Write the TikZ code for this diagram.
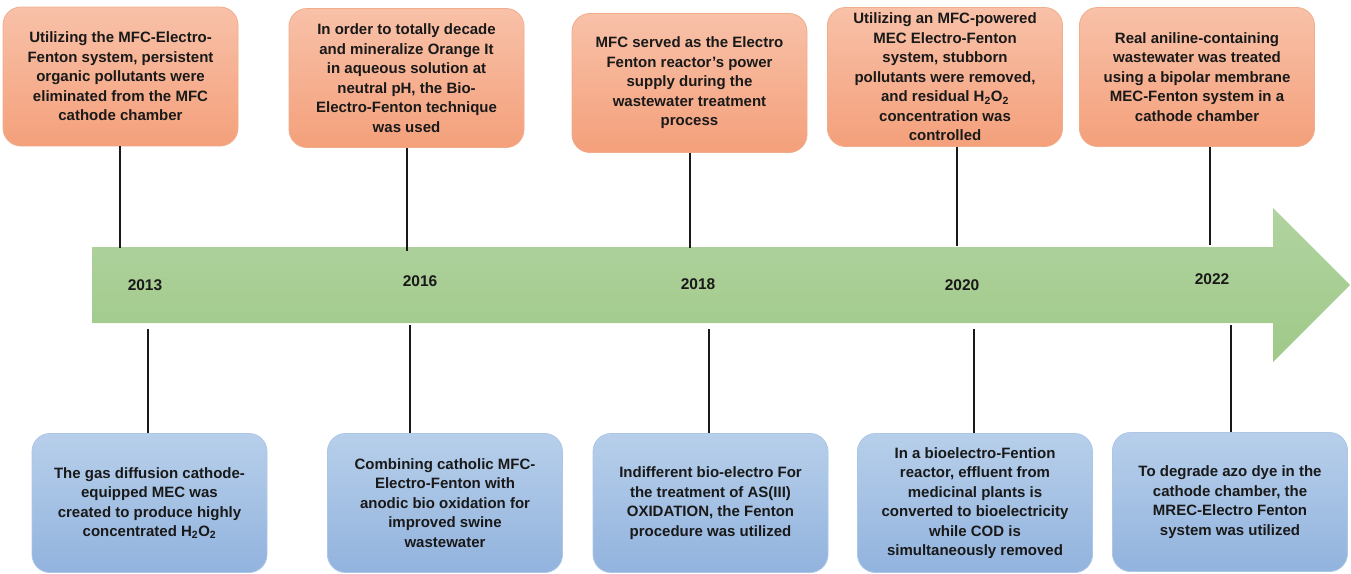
\documentclass[tikz,border=0pt]{standalone}
\usepackage{fontspec}
\setmainfont{Liberation Sans}
\definecolor{peach}{RGB}{248,193,168}
\definecolor{coral}{RGB}{244,160,123}
\definecolor{coralline}{RGB}{241,172,140}
\definecolor{sky}{RGB}{183,207,234}
\definecolor{steel}{RGB}{146,179,222}
\definecolor{skyline}{RGB}{172,198,230}
\definecolor{leaf}{RGB}{177,211,160}
\definecolor{moss}{RGB}{160,201,137}
\definecolor{ink}{RGB}{25,25,25}
\tikzset{
  event/.style={draw=#1,line width=0.8pt,rounded corners=18pt,minimum width=235pt,
    minimum height=139pt,align=center,text=ink,inner sep=2pt,
    font=\fontsize{15}{19.5}\selectfont\bfseries},
  top event/.style={event=coralline,top color=peach,bottom color=coral},
  low event/.style={event=skyline,top color=sky,bottom color=steel},
  year/.style={font=\fontsize{15.5}{17}\selectfont\bfseries,text=ink},
  stem/.style={line width=1.8pt,draw=ink},
}
\begin{document}
\begin{tikzpicture}[x=1pt,y=-1pt]
  \useasboundingbox (0,0) rectangle (1351,573);
  % timeline arrow
  \shade[top color=leaf,bottom color=moss] (92,247) -- (1273,247) -- (1273,208) -- (1350,285)
    -- (1273,362) -- (1273,323) -- (92,323) -- cycle;
  \foreach \yr/\x/\y in {2013/145/285,2016/420/281,2018/698/284,2020/962/285,2022/1212/279}
    \node[year] (y\yr) at (\x,\y) {\yr};

  % events above
  \node[top event] (t1) at (120.5,76.5) {Utilizing the MFC-Electro-\\Fenton system, persistent\\organic pollutants were\\eliminated from the MFC\\cathode chamber};
  \node[top event] (t2) at (406.5,78) {In order to totally decade\\and mineralize Orange It\\in aqueous solution at\\neutral pH, the Bio-\\Electro-Fenton technique\\was used};
  \node[top event] (t3) at (689.5,83) {MFC served as the Electro\\Fenton reactor's power\\supply during the\\wastewater treatment\\process};
  \node[top event] (t4) at (945,77) {Utilizing an MFC-powered\\MEC Electro-Fenton\\system, stubborn\\pollutants were removed,\\and residual H\textsubscript{2}O\textsubscript{2}\\concentration was\\controlled};
  \node[top event] (t5) at (1197,77) {Real aniline-containing\\wastewater was treated\\using a bipolar membrane\\MEC-Fenton system in a\\cathode chamber};

  % events below
  \node[low event] (b1) at (149.5,503) {The gas diffusion cathode-\\equipped MEC was\\created to produce highly\\concentrated H\textsubscript{2}O\textsubscript{2}};
  \node[low event] (b2) at (445,503) {Combining catholic MFC-\\Electro-Fenton with\\anodic bio oxidation for\\improved swine\\wastewater};
  \node[low event] (b3) at (710.5,503) {Indifferent bio-electro For\\the treatment of AS(III)\\OXIDATION, the Fenton\\procedure was utilized};
  \node[low event] (b4) at (975,503) {In a bioelectro-Fention\\reactor, effluent from\\medicinal plants is\\converted to bioelectricity\\while COD is\\simultaneously removed};
  \node[low event] (b5) at (1230,502) {To degrade azo dye in the\\cathode chamber, the\\MREC-Electro Fenton\\system was utilized};

  % stems
  \coordinate (a1) at (120,248);
  \coordinate (a2) at (407,251);
  \coordinate (a3) at (690,248);
  \coordinate (a4) at (957,246);
  \coordinate (a5) at (1210,245);
  \coordinate (c1) at (148,329);
  \coordinate (c2) at (410,325);
  \coordinate (c3) at (709,329);
  \coordinate (c4) at (974,329);
  \coordinate (c5) at (1231,325);
  \draw[stem,line width=1.2pt] (t1.south -| a1) -- (a1);
  \foreach \i in {2,...,5}
    \draw[stem] (t\i.south -| a\i) -- (a\i);
  \foreach \i in {1,...,5}
    \draw[stem] (c\i) -- (c\i |- b\i.north);
\end{tikzpicture}
\end{document}
